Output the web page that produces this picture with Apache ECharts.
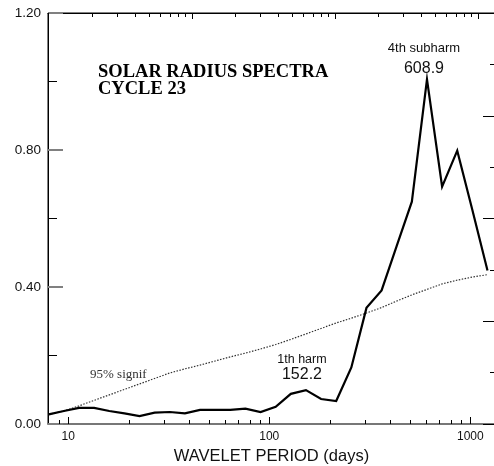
<!DOCTYPE html>
<html>
<head>
<meta charset="utf-8">
<script src="https://cdn.jsdelivr.net/npm/echarts@6/dist/echarts.min.js"></script>
<style>
  html, body { margin: 0; padding: 0; background: #fff; }
  #chart { width: 494px; height: 466px; }
</style>
</head>
<body>
<div id="chart"></div>
<script>
// Wavelet periods (days), quarter-octave spacing
const periods = [8.00, 9.51, 11.31, 13.45, 16.00, 19.03, 22.63, 26.91, 32.00, 38.05,
  45.25, 53.82, 64.00, 76.11, 90.51, 107.63, 128.00, 152.22, 181.02, 215.27,
  256.00, 304.44, 362.04, 430.54, 512.00, 608.87, 724.08, 861.08, 1024.00, 1217.75];

// Global wavelet power of the solar radius series
const power = [0.028, 0.038, 0.047, 0.047, 0.038, 0.031, 0.023, 0.033, 0.035, 0.031,
  0.041, 0.041, 0.041, 0.045, 0.035, 0.050, 0.088, 0.099, 0.073, 0.067,
  0.165, 0.339, 0.390, 0.520, 0.649, 1.006, 0.693, 0.798, 0.625, 0.448];

// 95% significance level
const signif = [0.028, 0.038, 0.053, 0.069, 0.085, 0.101, 0.117, 0.133, 0.149, 0.161,
  0.172, 0.184, 0.196, 0.207, 0.219, 0.232, 0.247, 0.263, 0.279, 0.295,
  0.309, 0.324, 0.340, 0.359, 0.377, 0.393, 0.409, 0.420, 0.429, 0.436];

// Annotated peaks (indices into periods)
const harmIndex = 17;
const subharmIndex = 25;

// Minor log ticks
const bottomMinorTicks = [9, 20, 30, 40, 50, 60, 70, 80, 90, 200, 300, 400, 500, 600, 700, 800, 900];
const topMinorTicks = [0.2, 0.3, 0.4, 0.5, 0.6, 0.7, 0.8, 0.9, 2, 3, 4, 5, 6, 7, 8, 9,
  20, 30, 40, 50, 60, 70, 80, 90];

const SANS = '"Liberation Sans", Arial, sans-serif';
const SERIF = '"Liberation Serif", "Times New Roman", serif';

function tickSeries(ticks, xAxisIndex, yVal, len) {
  return {
    type: 'custom',
    xAxisIndex: xAxisIndex,
    yAxisIndex: 0,
    silent: true,
    clip: false,
    z: 5,
    data: ticks.map(v => [v, yVal]),
    encode: { x: 0, y: 1 },
    renderItem: function (params, api) {
      const p = api.coord([api.value(0), api.value(1)]);
      const x = Math.round(p[0]) + 0.5;
      return {
        type: 'line',
        shape: { x1: x, y1: p[1], x2: x, y2: p[1] + len },
        style: { stroke: '#000', lineWidth: 1 }
      };
    }
  };
}

const chart = echarts.init(document.getElementById('chart'), null, { renderer: 'canvas' });

chart.setOption({
  animation: false,
  backgroundColor: '#fff',
  grid: {
    left: 48, right: -1, top: 13, bottom: 42,
    outerBoundsMode: 'none', containLabel: false,
    show: true, borderColor: '#000', borderWidth: 1, backgroundColor: 'transparent'
  },
  xAxis: [
    {
      type: 'log',
      logBase: 10,
      min: 7.93,
      max: 1327,
      position: 'bottom',
      name: 'WAVELET PERIOD (days)',
      nameLocation: 'middle',
      nameGap: 23,
      nameTextStyle: { fontFamily: SANS, fontSize: 16.5, color: '#111' },
      axisLine: { show: true, onZero: false, lineStyle: { color: '#777', width: 2 } },
      axisTick: { show: true, inside: true, length: 7, lineStyle: { color: '#000', width: 1 } },
      axisLabel: {
        show: true, margin: 7, fontFamily: SANS, fontSize: 12, color: '#111',
        showMinLabel: false, showMaxLabel: false,
        formatter: v => String(Math.round(v))
      },
      splitLine: { show: false }
    },
    {
      type: 'log',
      logBase: 10,
      min: 0.0988,
      max: 132,
      position: 'top',
      axisLine: { show: true, onZero: false, lineStyle: { color: '#000', width: 1 } },
      axisTick: { show: true, inside: true, length: 6, lineStyle: { color: '#000', width: 1 } },
      axisLabel: { show: false },
      splitLine: { show: false }
    }
  ],
  yAxis: [
    {
      type: 'value',
      min: 0,
      max: 1.2,
      interval: 0.4,
      position: 'left',
      axisLine: { show: true, onZero: false, lineStyle: { color: '#000', width: 1 } },
      axisTick: { show: true, inside: true, length: 15, lineStyle: { color: '#808080', width: 2 } },
      minorTick: { show: true, splitNumber: 2, length: 9, lineStyle: { color: '#000', width: 1 } },
      axisLabel: { margin: 7, fontFamily: SANS, fontSize: 13.5, color: '#111', formatter: v => v.toFixed(2) },
      splitLine: { show: false },
      minorSplitLine: { show: false }
    },
    {
      type: 'value',
      min: 0,
      max: 4,
      interval: 1,
      position: 'right',
      axisLine: { show: false, onZero: false },
      axisTick: { show: true, inside: true, length: 12, lineStyle: { color: '#000', width: 1 } },
      minorTick: { show: true, splitNumber: 2, length: 5, lineStyle: { color: '#000', width: 1 } },
      axisLabel: { show: false },
      splitLine: { show: false }
    }
  ],
  series: [
    {
      name: '95% signif',
      type: 'line',
      xAxisIndex: 0,
      yAxisIndex: 0,
      data: periods.map((p, i) => [p, signif[i]]),
      symbol: 'none',
      smooth: false,
      z: 3,
      lineStyle: { color: '#333', width: 1.2, type: [1.5, 1.5] }
    },
    {
      name: 'power',
      type: 'line',
      xAxisIndex: 0,
      yAxisIndex: 0,
      data: periods.map((p, i) => [p, power[i]]),
      symbol: 'none',
      smooth: false,
      z: 4,
      lineStyle: { color: '#000', width: 2.2, join: 'miter', miterLimit: 10 },
      markPoint: {
        symbol: 'circle',
        symbolSize: 0,
        silent: true,
        data: [
          {
            coord: [periods[harmIndex], power[harmIndex]],
            label: {
              show: true,
              position: 'top',
              distance: 7,
              offset: [-4, 0],
              formatter: '{a|1th harm}\n{b|' + periods[harmIndex].toFixed(1) + '}',
              rich: {
                a: { fontFamily: SANS, fontSize: 12.5, color: '#111', lineHeight: 16, align: 'center' },
                b: { fontFamily: SANS, fontSize: 16, color: '#111', lineHeight: 16, align: 'center' }
              }
            }
          },
          {
            coord: [periods[subharmIndex], power[subharmIndex]],
            label: {
              show: true,
              position: 'top',
              distance: 3,
              offset: [-3, 0],
              formatter: '{a|4th subharm}\n{b|' + periods[subharmIndex].toFixed(1) + '}',
              rich: {
                a: { fontFamily: SANS, fontSize: 13, color: '#111', lineHeight: 24, align: 'center' },
                b: { fontFamily: SANS, fontSize: 16, color: '#111', lineHeight: 16, align: 'center' }
              }
            }
          }
        ]
      }
    },
    tickSeries(bottomMinorTicks, 0, 0, -4),
    tickSeries(topMinorTicks, 1, 1.2, 4)
  ],
  graphic: [
    {
      type: 'text',
      style: {
        x: 98, y: 72, text: 'SOLAR RADIUS SPECTRA',
        font: 'bold 18.5px ' + SERIF, fill: '#000', verticalAlign: 'middle'
      }
    },
    {
      type: 'text',
      style: {
        x: 98, y: 89, text: 'CYCLE 23',
        font: 'bold 18.5px ' + SERIF, fill: '#000', verticalAlign: 'middle'
      }
    },
    {
      type: 'text',
      style: {
        x: 90, y: 375, text: '95% signif',
        font: '13px ' + SERIF, fill: '#333', verticalAlign: 'middle'
      }
    }
  ]
});
</script>
</body>
</html>
